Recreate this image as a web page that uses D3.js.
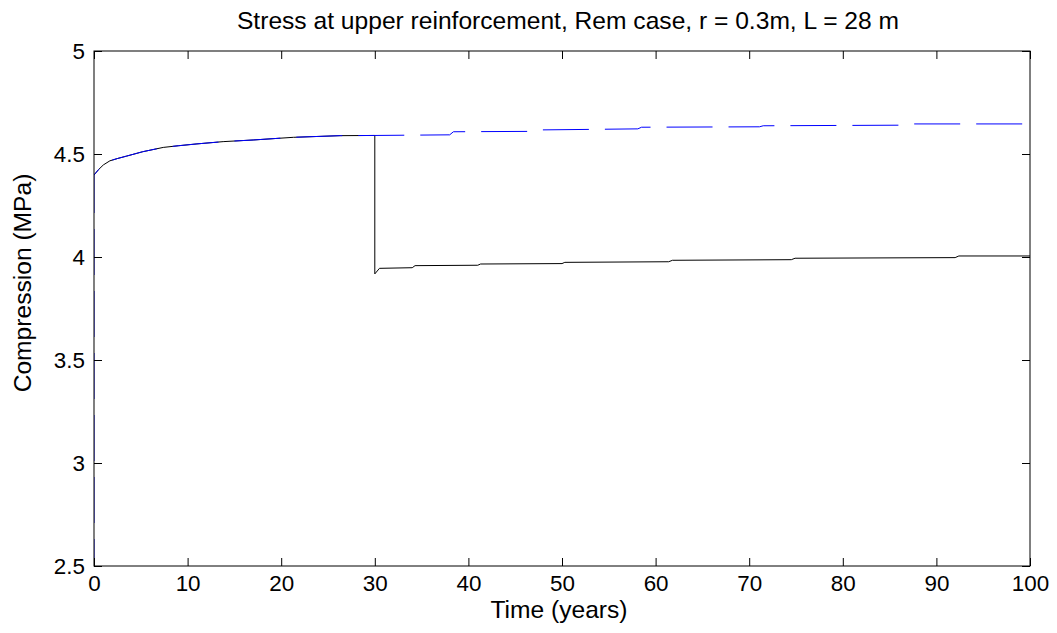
<!DOCTYPE html>
<html>
<head>
<meta charset="utf-8">
<script src="https://cdn.jsdelivr.net/npm/d3@7/dist/d3.min.js"></script>
<style>
  html, body { margin: 0; padding: 0; background: #fff; }
  svg { display: block; font-family: "Liberation Sans", Arial, sans-serif; }
</style>
</head>
<body>
<svg id="chart" width="1057" height="633"></svg>
<script>
// ---- data ----
const titleText = "Stress at upper reinforcement, Rem case, r = 0.3m, L = 28 m";
const xLabelText = "Time (years)";
const yLabelText = "Compression (MPa)";
const xTicks = [0, 10, 20, 30, 40, 50, 60, 70, 80, 90, 100];
const yTicks = [2.5, 3, 3.5, 4, 4.5, 5];
const xDomain = [0, 100];
const yDomain = [2.5, 5];

// dashed blue series (no removal)
const blueTime   = [0, 0, 0.5, 1, 1.7, 2.5, 3.5, 5.2, 7.4, 9, 11, 13.8, 17, 21.3, 26.3, 30, 38.0, 38.4, 47.4, 47.8, 58.1, 58.5, 71.1, 71.5, 87.0, 87.4, 100];
const blueStress = [0, 4.398, 4.425, 4.447, 4.467, 4.478, 4.490, 4.511, 4.532, 4.540, 4.549, 4.560, 4.568, 4.581, 4.589, 4.590, 4.593, 4.608, 4.610, 4.617, 4.622, 4.630, 4.632, 4.637, 4.640, 4.646, 4.646];

// solid black series (removal at 30 years)
const blackTime   = [0, 0.5, 1, 1.7, 2.5, 3.5, 5.2, 7.4, 9, 11, 13.8, 17, 21.3, 26.3, 30, 30, 30.5, 34.0, 34.3, 41.0, 41.3, 50.0, 50.3, 61.4, 61.8, 74.5, 74.9, 92.0, 92.4, 100];
const blackStress = [4.398, 4.425, 4.447, 4.467, 4.478, 4.490, 4.511, 4.532, 4.540, 4.549, 4.560, 4.568, 4.581, 4.589, 4.590, 3.918, 3.945, 3.948, 3.958, 3.960, 3.966, 3.968, 3.974, 3.977, 3.984, 3.987, 3.994, 3.997, 4.005, 4.005];

// ---- layout ----
const mLeft = 94, mRight = 1030, mTop = 51, mBottom = 566;
const tickFS = 22.4;
const labelFS = 24.6;

const svg = d3.select("#chart");
const x = d3.scaleLinear().domain(xDomain).range([mLeft, mRight]);
const y = d3.scaleLinear().domain(yDomain).range([mBottom, mTop]);

svg.append("defs").append("clipPath").attr("id", "clip")
  .append("rect").attr("x", mLeft).attr("y", mTop).attr("width", mRight - mLeft).attr("height", mBottom - mTop);

const line = d3.line().x(d => x(d[0])).y(d => y(d[1]));

const blackData = blackTime.map((t, i) => [t, blackStress[i]]);
const blueData = blueTime.map((t, i) => [t, blueStress[i]]);

svg.append("path").datum(blackData)
  .attr("clip-path", "url(#clip)")
  .attr("d", line).attr("fill", "none").attr("stroke", "#000").attr("stroke-width", 1);

svg.append("path").datum(blueData)
  .attr("clip-path", "url(#clip)")
  .attr("d", line).attr("fill", "none").attr("stroke", "#0000ff").attr("stroke-width", 1)
  .attr("stroke-dasharray", "46,16");

// ---- axes ----
function styleAxis(g) {
  g.selectAll("path.domain").remove();
  g.selectAll(".tick line").attr("stroke", "#000").attr("stroke-width", 1);
  g.selectAll(".tick text").attr("fill", "#000").attr("font-size", tickFS)
   .attr("font-family", "Liberation Sans, Arial, sans-serif");
}

const fmt = d => String(d);

svg.append("g").attr("transform", `translate(0,${mBottom})`)
  .call(d3.axisBottom(x).tickValues(xTicks).tickFormat(fmt).tickSizeInner(-8).tickSizeOuter(0).tickPadding(9))
  .call(styleAxis);
svg.append("g").attr("transform", `translate(0,${mTop})`)
  .call(d3.axisTop(x).tickValues(xTicks).tickFormat("").tickSizeInner(-8).tickSizeOuter(0))
  .call(styleAxis);
svg.append("g").attr("transform", `translate(${mLeft},0)`)
  .call(d3.axisLeft(y).tickValues(yTicks).tickFormat(fmt).tickSizeInner(-8).tickSizeOuter(0).tickPadding(9))
  .call(styleAxis);
svg.append("g").attr("transform", `translate(${mRight},0)`)
  .call(d3.axisRight(y).tickValues(yTicks).tickFormat("").tickSizeInner(-8).tickSizeOuter(0))
  .call(styleAxis);

svg.append("rect").attr("x", mLeft).attr("y", mTop).attr("width", mRight - mLeft).attr("height", mBottom - mTop)
  .attr("fill", "none").attr("stroke", "#000").attr("stroke-width", 1);

// ---- texts ----
svg.append("text").attr("x", 568).attr("y", 29)
  .attr("text-anchor", "middle").attr("font-size", labelFS).attr("fill", "#000").text(titleText);
svg.append("text").attr("x", 559).attr("y", 618)
  .attr("text-anchor", "middle").attr("font-size", labelFS).attr("fill", "#000").text(xLabelText);
svg.append("text").attr("transform", `translate(31,283) rotate(-90)`)
  .attr("text-anchor", "middle").attr("font-size", labelFS).attr("fill", "#000").text(yLabelText);
</script>
</body>
</html>
